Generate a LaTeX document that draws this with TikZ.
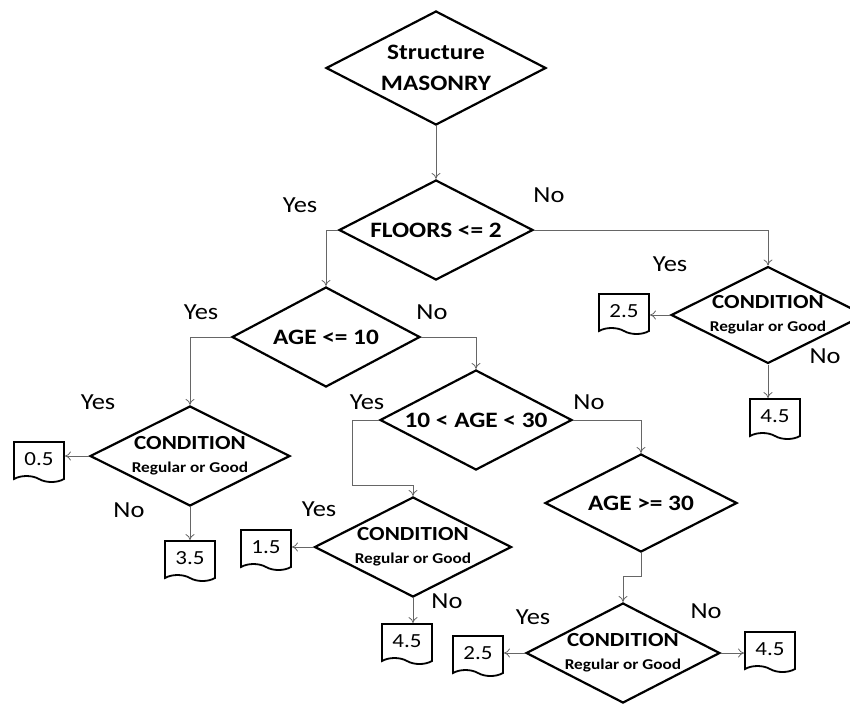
\documentclass[tikz,border=0pt]{standalone}
\usepackage{fontspec}
\setmainfont{Carlito}[FakeStretch=1.15]
\usetikzlibrary{shapes.geometric,shapes.symbols,arrows.meta}
\colorlet{linkgray}{black!60}
\newcommand{\condtext}{CONDITION\\{\fontsize{15}{18}\selectfont Regular or Good}}

\begin{document}
\begin{tikzpicture}[x=1pt, y=1pt, node distance=100pt,
  >={To[length=6pt,width=9pt]},
  test/.style={diamond, draw, line width=2.2pt, aspect=2, inner sep=0pt, align=center,
    font=\bfseries\fontsize{22}{31}\selectfont},
  cond/.style={test, font=\bfseries\fontsize{20}{23}\selectfont},
  leaf/.style={tape, draw, line width=1.8pt, tape bend top=none, tape bend bottom=out and in,
    tape bend height=6pt, minimum width=50pt, minimum height=40pt, inner sep=0pt,
    font=\fontsize{20}{24}\selectfont},
  ans/.style={font=\fontsize{23}{26}\selectfont},
  link/.style={->, draw=linkgray, line width=0.8pt}]
\useasboundingbox (0,0) rectangle (850,-705);

% decisions
\node (S) [test, minimum width=220pt, minimum height=114pt] at (436,-68) {Structure\\MASONRY};
\node (F) [test, below of=S, node distance=162pt, minimum width=194pt, minimum height=100pt] {FLOORS <= 2};
\node (A10) [test, below of=F, node distance=107pt, xshift=-110pt, minimum width=188pt, minimum height=100pt] {AGE <= 10};
\node (A1030) [test, below of=A10, node distance=83pt, xshift=150pt, minimum width=192pt, minimum height=100pt] {10 < AGE < 30};
\node (A30) [test, below of=A1030, node distance=83pt, xshift=165pt, minimum width=192pt, minimum height=98pt] {AGE >= 30};
\node (CR) [cond, below of=F, node distance=85pt, xshift=332pt, minimum width=186pt, minimum height=96pt] {\condtext};
\node (C1) [cond, below of=A10, node distance=119pt, xshift=-136pt, minimum width=200pt, minimum height=100pt] {\condtext};
\node (C2) [cond, below of=A1030, node distance=127pt, xshift=-63pt, minimum width=197pt, minimum height=100pt] {\condtext};
\node (C3) [cond, below of=A30, node distance=150pt, xshift=-18pt, minimum width=188pt, minimum height=100pt] {\condtext};

% results
\node (b25r) [leaf, left of=CR, node distance=144pt, yshift=4pt] {2.5};
\node (b45r) [leaf, below of=CR, node distance=101pt, xshift=7pt] {4.5};
\node (b05) [leaf, left of=C1, node distance=151pt, yshift=-3pt] {0.5};
\node (b35) [leaf, below of=C1, node distance=102pt] {3.5};
\node (b15) [leaf, left of=C2, node distance=147pt] {1.5};
\node (b45m) [leaf, below of=C2, node distance=94pt, xshift=-6pt] {4.5};
\node (b25b) [leaf, left of=C3, node distance=145pt] {2.5};
\node (b45b) [leaf, right of=C3, node distance=147pt, yshift=4pt] {4.5};

% answers
\node (yF) [ans, left of=F, node distance=136pt, yshift=25pt] {Yes};
\node (nF) [ans, right of=F, node distance=113pt, yshift=35pt] {No};
\node (yA10) [ans, left of=A10, node distance=125pt, yshift=25pt] {Yes};
\node (nA10) [ans, right of=A10, node distance=106pt, yshift=25pt] {No};
\node (yA1030) [ans, left of=A1030, node distance=109pt, yshift=18pt] {Yes};
\node (nA1030) [ans, right of=A1030, node distance=113pt, yshift=18pt] {No};
\node (yCR) [ans, left of=CR, node distance=98pt, yshift=51pt] {Yes};
\node (nCR) [ans, right of=CR, node distance=57pt, yshift=-41pt] {No};
\node (yC1) [ans, left of=C1, node distance=92pt, yshift=54pt] {Yes};
\node (nC1) [ans, left of=C1, node distance=61pt, yshift=-54pt] {No};
\node (yC2) [ans, left of=C2, node distance=94pt, yshift=38pt] {Yes};
\node (nC2) [ans, right of=C2, node distance=34pt, yshift=-54pt] {No};
\node (yC3) [ans, left of=C3, node distance=90pt, yshift=36pt] {Yes};
\node (nC3) [ans, right of=C3, node distance=83pt, yshift=42pt] {No};

% connectors
\draw[link] (S) -- (F);
\draw[link] (F.west) -| (A10.north);
\draw[link] (F.east) -| (CR.north);
\draw[link] (A10.west) -| (C1.north);
\draw[link] (A10.east) -| (A1030.north);
\draw[link] (A1030.west) -- ++(-27,0) |- ([yshift=11pt]C2.north) -- (C2.north);
\draw[link] (A1030.east) -| (A30.north);
\draw[link] (A30.south) -- ++(0,-23) -| (C3.north);
\draw[link] (CR.west) -- (CR.west -| b25r.east);
\draw[link] (CR.south) -- (CR.south |- b45r.north);
\draw[link] (C1.west) -- (C1.west -| b05.east);
\draw[link] (C1.south) -- (b35.north);
\draw[link] (C2.west) -- (C2.west -| b15.east);
\draw[link] (C2.south) -- (C2.south |- b45m.north);
\draw[link] (C3.west) -- (C3.west -| b25b.east);
\draw[link] (C3.east) -- (C3.east -| b45b.west);
\end{tikzpicture}
\end{document}
